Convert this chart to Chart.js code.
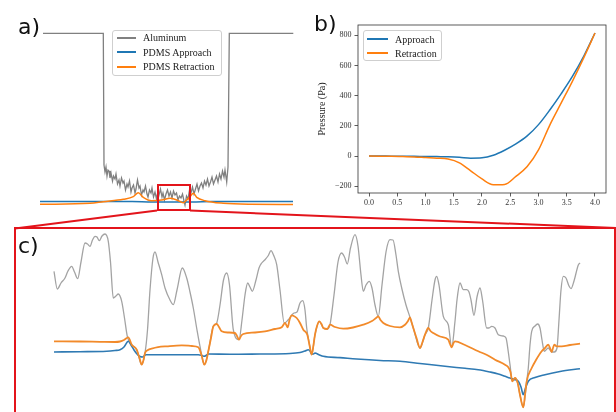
<!DOCTYPE html>
<html lang="en">
<head>
<meta charset="UTF-8">
<title>PDMS contact on aluminum</title>
<script src="https://cdn.jsdelivr.net/npm/chart.js"></script>
<style>
  body { margin: 0; width: 616px; height: 412px; overflow: hidden; background: #fff; position: relative; font-family: 'Liberation Serif', serif; }
  canvas { position: absolute; }
  .tag { position: absolute; font-family: 'DejaVu Sans', sans-serif; font-size: 22px; line-height: 22px; color: #111; }
  .lgbox { position: absolute; box-sizing: border-box; border: 1px solid #cfcfcf; border-radius: 3px; background: rgba(255,255,255,0.85); }
  .lgtxt { position: absolute; font-size: 10px; line-height: 10px; color: #222; white-space: nowrap; }
  .lgline { position: absolute; height: 2px; }
  .red { position: absolute; box-sizing: border-box; border: 2px solid #e3141b; }
  svg { position: absolute; left: 0; top: 0; }
</style>
</head>
<body>

<canvas id="profile" width="300" height="215" style="left:0;top:0"></canvas>
<canvas id="pressure" width="316" height="215" style="left:300px;top:0"></canvas>
<canvas id="zoom" width="616" height="184" style="left:0;top:228px"></canvas>

<div class="tag" style="left:18px;top:16px">a)</div>
<div class="tag" style="left:314px;top:13px">b)</div>
<div class="tag" style="left:18px;top:235px">c)</div>

<div class="lgbox" style="left:112px;top:30px;width:110px;height:46px"></div>
<div class="lgline" style="left:117px;top:37px;width:19px;background:#808080"></div>
<div class="lgtxt" style="left:143px;top:33px">Aluminum</div>
<div class="lgline" style="left:117px;top:51px;width:19px;background:#1f77b4"></div>
<div class="lgtxt" style="left:143px;top:47.5px">PDMS Approach</div>
<div class="lgline" style="left:117px;top:66px;width:19px;background:#ff7f0e"></div>
<div class="lgtxt" style="left:143px;top:62px">PDMS Retraction</div>

<div class="lgbox" style="left:363px;top:30px;width:79px;height:31px"></div>
<div class="lgline" style="left:367px;top:38px;width:21px;background:#1f77b4"></div>
<div class="lgtxt" style="left:395px;top:34.5px">Approach</div>
<div class="lgline" style="left:367px;top:52px;width:21px;background:#ff7f0e"></div>
<div class="lgtxt" style="left:395px;top:48.5px">Retraction</div>

<div class="red" style="left:156.5px;top:184px;width:34px;height:27px"></div>
<div class="red" style="left:14px;top:227px;width:602px;height:200px;border-width:2.5px"></div>
<svg width="616" height="412">
  <line x1="157" y1="210.5" x2="15" y2="228.5" stroke="#e3141b" stroke-width="2"/>
  <line x1="190" y1="210.5" x2="616" y2="228" stroke="#e3141b" stroke-width="2"/>
</svg>

<script>
// panel a: surface profile across the sample [position, height]
const aluminumA = [[1,178.7],[61.3,178.7],[62,47],[63,40],[64,45],[65,36],[66,42],[67,41],[68,34],[69,39],[70.5,31],[71.5,36],[73,33],[74,38],[75.5,28],[77,32],[78,26],[79.5,34],[81,29],[82,31],[83.5,22],[85,28],[86,25],[87.5,31],[89,20],[90,24],[91.5,27],[93,19],[94,23],[95.5,32],[97,24],[98,26],[99.5,17],[101,22],[102,20],[103.5,26],[105,18],[106,15],[107.5,22],[109,19],[110,24],[111.5,15],[113,20],[114.5,13],[116,21],[117,17],[118.5,23],[120,15],[121,19],[122.5,12],[124,18],[125.5,22],[127,16],[128.5,20],[130,14],[131.5,21],[133,17],[134.5,19],[136,12],[137.5,16],[139,14],[140.5,18],[142,11],[143,7],[144.5,16],[146,13],[147.5,22],[149,19],[150.5,25],[152,18],[153.5,23],[155,28],[156.5,21],[158,26],[159.5,29],[161,24],[162.5,31],[164,27],[165.5,33],[167,26],[168.5,30],[170,35],[171.5,28],[173,32],[174.5,36],[176,30],[177.5,38],[179,33],[180.5,41],[182,35],[183,42],[184.7,30],[186,45],[187.3,178.7],[251.3,178.7]];
const approachA = [[-2,10.5],[90,10.5],[110,10],[150,10],[170,10.5],[251,10.5]];
const retractionA = [[-2,7.7],[48,8.7],[61.3,10.3],[81.3,12.7],[91.3,15.3],[96.3,19.3],[101.3,14.7],[109.7,11.3],[119.7,12],[128,13.7],[134.7,12],[141.3,9.3],[144.7,12],[148,15.3],[151.3,18.7],[154.7,14.7],[163,11.3],[181.3,8.7],[208,7.7],[251,7.5]];

// panel b: pressure vs displacement
const dispB = [0, 0.2, 0.4, 0.6, 0.8, 1.0, 1.2, 1.4, 1.6, 1.8, 2.0, 2.2, 2.4, 2.6, 2.8, 3.0, 3.2, 3.4, 3.6, 3.8, 4.0];
const approachB = [0, 0, -1, -1, -2, -3, -4, -5, -8, -14, -12, 5, 38, 80, 133, 208, 305, 412, 527, 660, 815];
const retractionB = [0, -1, -2, -4, -6, -10, -14, -20, -45, -98, -152, -190, -188, -135, -70, 40, 205, 350, 495, 650, 815];
const xTicksB = [0, 0.5, 1, 1.5, 2, 2.5, 3, 3.5, 4];
const yTicksB = [-200, 0, 200, 400, 600, 800];

// panel c: close-up of the contact zone [position, height]
const aluminumC = [[0,140.7],[3.3,123],[7,129],[11,134],[14,141],[17.7,145.7],[20.5,140],[23.7,133.3],[27,150],[31,169],[33.5,168],[36,165.7],[38.5,172],[41,175.7],[43,175],[45.3,171.3],[48,176],[51,178],[54.3,170.7],[56.5,150],[59.3,114],[62,116],[64.3,118],[67.7,110.7],[70.5,94],[73.3,75.7],[77.7,67.3],[82.7,62.3],[87.7,47.3],[91,59],[93.5,82],[96,122],[99,154],[101,160],[104,150],[107.7,137.3],[111,124],[116,112],[119.3,107.3],[123,122],[128.3,144],[132.7,134],[136,120],[139.3,104],[143,82],[146,65.7],[150.3,47.3],[154.3,60.7],[159.3,85.7],[162.7,89],[166,107],[169.5,132],[172.7,139],[175.5,127],[179.3,82.3],[185,72.3],[188,92],[191,117],[193.7,129],[196,125],[198.3,120.7],[202,132],[205,144],[207.7,149],[211,152.3],[214,156],[217,161.3],[219.5,157],[222.7,147.3],[226,122],[230.3,89],[234.3,92.3],[237.7,96.7],[240,99],[243,100],[246,109],[248.7,111.3],[251,102],[252.7,84],[255,70],[257.7,57.3],[261,77.3],[265.3,90.7],[269.3,84],[273.3,83],[276,87.3],[280,117],[284,150],[287.7,159],[290.5,155],[293.3,148],[296.5,164],[301,177.3],[304,166],[307,137],[309.3,120.7],[312,127],[315.3,130.7],[318,124],[321,107],[324.3,95.7],[328,127],[332,160],[336,172.3],[339,172],[342,157],[344.3,140.7],[347.7,124],[352,107],[356,94.7],[359.3,84],[366,64],[371,77.3],[374.3,84],[378,112],[381,132],[382.7,135.7],[385,127],[389.3,95.7],[394.3,87.3],[397.7,64.7],[401,90.7],[403,112],[406,129],[409.3,122.3],[412.7,122.3],[415,120],[417,112],[420,96.7],[423,115],[426,124],[428.5,112],[432.7,84],[435,84],[437.7,85.7],[441,84],[444.3,77.3],[449.3,76],[452,74],[454.3,60],[456,47.3],[458.3,30.7],[461,34],[463.7,29],[466,17],[469.3,4.7],[472.7,30.7],[474.3,44],[476,67],[477.7,80.7],[481,86],[483.7,88],[486,84],[488,72],[490.3,60.7],[494.3,64],[497.7,60],[500.3,60],[503,64],[505,92],[507,122],[509.3,135.7],[512,134],[515,126],[517,123.3],[520,131],[524.3,147],[526,149]];
const retractionC = [[0,70.7],[26,70.5],[46,70.2],[61,70],[66,70.5],[70,72],[74.3,74.7],[77.7,67.3],[82.7,62.3],[85.5,54],[87.7,47.3],[89.5,52],[91,59],[94,62],[97.7,63.3],[104,64.8],[112.7,65.7],[127.7,66.7],[138,66],[144.3,64.7],[147.5,57],[150.3,47.3],[152.5,52],[154.3,60.7],[157,74],[159.3,85.7],[162.7,88],[165,85],[167.7,80.7],[174,79.5],[181,79],[183,76],[185,72.3],[187,76],[189.3,78],[201,79.5],[211,80.7],[221,83],[227.7,84.7],[231,89],[233.7,84.7],[235.5,92],[237.7,96.7],[239.3,96.3],[242.7,94],[246,89],[249.3,82.3],[253.3,77.3],[255.5,67],[257.7,57.3],[259.5,67],[261,77.3],[263,86],[265.3,90.7],[267.5,88],[269.3,84],[273.3,83],[276,87.3],[281,85],[289.3,83.3],[299,84.5],[309.3,87.3],[318,91],[322,94],[324.3,95.7],[326.5,92],[329.3,89],[336,86],[346,84.7],[351,87.3],[354,91],[356,94.7],[357.5,90],[359.3,84],[362.5,74],[366,64],[368.5,70],[371,77.3],[374.3,84],[376.5,81],[379.3,79],[386,75.5],[394.3,72.3],[396,68],[397.7,64.7],[399.5,69],[401,70.7],[411,67],[424.3,60.7],[433,57],[441,52.3],[451,47.3],[454.3,44.7],[456.5,40],[458.3,30.7],[461,34],[463.7,29],[466,17],[469.3,4.7],[471,17],[472.7,30.7],[477.7,44],[482,52],[487.7,60.7],[491,64],[494.3,67.3],[496,64],[497.7,60],[499,64],[500.3,67.3],[502.7,65.7],[507.7,65.7],[516,67],[526,68.3]];
const approachC = [[0,60],[26,60.3],[52.7,60.7],[61,61.5],[66,62.3],[70,65],[74.3,70.7],[77,67],[80,62],[83,58],[86,55.5],[88.5,55],[92,57.3],[111,57.3],[144.3,57.3],[148,56.5],[150.3,55.7],[152,56.5],[154.3,58],[176,57.7],[206,58],[236,58.5],[246,59.5],[251,61],[254.3,62.3],[256,61],[257.7,58],[259.5,58],[261,59],[265,57.3],[269.3,55.7],[286,54.4],[302.7,53],[326,51.5],[346,50.7],[366,48.5],[391,45.7],[411,43.7],[424.3,42.3],[436,40],[444.3,38],[451,35.7],[456,34],[460,32.5],[464.3,30.7],[467,25],[469.3,17.3],[471.5,24],[474.3,30.7],[481,34.5],[491,37.3],[506,40.5],[526,43.3]];

const GRAY = '#808080', BLUE = '#1f77b4', ORANGE = '#ff7f0e';
const pts = arr => arr.map(p => ({ x: p[0], y: p[1] }));

function line(data, color, width, order, smooth) {
  return {
    data: data, borderColor: color, borderWidth: width, pointRadius: 0,
    fill: false, order: order, cubicInterpolationMode: smooth ? 'monotone' : 'default', tension: 0
  };
}

const bare = (xmin, xmax, ymin, ymax) => ({
  x: { type: 'linear', display: false, min: xmin, max: xmax },
  y: { type: 'linear', display: false, min: ymin, max: ymax }
});

const common = {
  responsive: false, animation: false, events: [],
  layout: { padding: 0 },
  plugins: { legend: { display: false }, tooltip: { enabled: false } }
};

new Chart(document.getElementById('profile'), {
  type: 'line',
  data: { datasets: [
    line(pts(aluminumA), GRAY, 1.3, 3, false),
    line(pts(approachA), BLUE, 1.5, 2, true),
    line(pts(retractionA), ORANGE, 1.5, 1, true)
  ] },
  options: Object.assign({}, common, { scales: bare(-42, 258, -3, 212) })
});

new Chart(document.getElementById('zoom'), {
  type: 'line',
  data: { datasets: [
    line(pts(aluminumC), '#a3a3a3', 1.3, 3, true),
    line(pts(approachC), '#2f7ab3', 1.6, 2, true),
    line(pts(retractionC), '#f28a2a', 1.8, 1, true)
  ] },
  options: Object.assign({}, common, { scales: bare(-54, 562, 0, 184) })
});

const frame = {
  id: 'frame',
  afterDraw(chart) {
    const a = chart.chartArea, ctx = chart.ctx;
    ctx.save();
    ctx.strokeStyle = '#333';
    ctx.lineWidth = 0.8;
    ctx.strokeRect(a.left, a.top, a.right - a.left, a.bottom - a.top);
    ctx.restore();
  }
};

const tickFont = { family: 'Liberation Serif', size: 8 };
const fmtNum = v => (v < 0 ? '\u2212' + Math.abs(v) : String(v));

new Chart(document.getElementById('pressure'), {
  type: 'line',
  data: { datasets: [
    line(dispB.map((x, i) => ({ x: x, y: approachB[i] })), BLUE, 1.5, 2, true),
    line(dispB.map((x, i) => ({ x: x, y: retractionB[i] })), ORANGE, 1.5, 1, true)
  ] },
  options: Object.assign({}, common, {
    layout: { padding: { left: 14, top: 25, right: 10, bottom: 0 } },
    scales: {
      x: {
        type: 'linear', min: -0.195, max: 4.195,
        afterBuildTicks: s => { s.ticks = xTicksB.map(v => ({ value: v })); },
        afterFit: s => { s.height = 22; },
        ticks: { font: tickFont, color: '#333', padding: 2, maxRotation: 0, callback: v => v.toFixed(1) },
        grid: { drawOnChartArea: false, tickLength: 3.5, color: '#333', tickWidth: 0.8 },
        border: { display: false }
      },
      y: {
        type: 'linear', min: -245, max: 868,
        afterBuildTicks: s => { s.ticks = yTicksB.map(v => ({ value: v })); },
        afterFit: s => { s.width = 44; },
        ticks: { font: tickFont, color: '#333', padding: 3, callback: fmtNum },
        grid: { drawOnChartArea: false, tickLength: 3.5, color: '#333', tickWidth: 0.8 },
        border: { display: false },
        title: { display: true, text: 'Pressure (Pa)', color: '#222', font: { family: 'Liberation Serif', size: 10 }, padding: { top: 2, bottom: 0 } }
      }
    }
  }),
  plugins: [frame]
});
</script>
</body>
</html>
